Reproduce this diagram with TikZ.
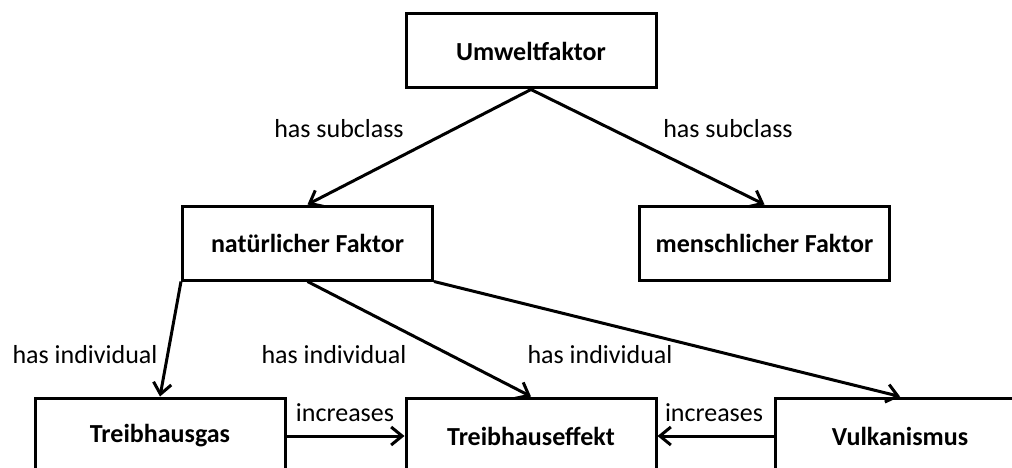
\documentclass[tikz,border=0pt]{standalone}
\usepackage{fontspec}
\setmainfont{Carlito}
\usetikzlibrary{arrows.meta}
\begin{document}
\begin{tikzpicture}[x=1pt,y=-1pt,
  box/.style={draw, line width=3pt, minimum width=250pt, minimum height=74pt, inner sep=0pt, font=\fontsize{26}{30}\selectfont\bfseries},
  lbl/.style={inner sep=0pt, font=\fontsize{26}{30}\selectfont},
  conn/.style={line width=3pt, -{Straight Barb[length=11pt,width=18pt,line width=3pt]}}]
\clip (0,0) rectangle (1012,468);
\useasboundingbox (0,0) rectangle (1012,468);
\node[box] (u) at (531,51) {Umweltfaktor};
\node[box] (n) at (307.5,243) {natürlicher Faktor};
\node[box] (m) at (764.5,243) {menschlicher Faktor};
\node[box, minimum height=76pt] (g) at (160,436) {Treibhausgas};
\node[box, minimum height=76pt] (e) at (531,436) {Treibhauseffekt};
\node[box, minimum height=76pt] (v) at (900,436) {Vulkanismus};
\draw[conn] (u.south) -- (n.north);
\draw[conn] (u.south) -- (m.north);
\draw[conn] (n.south west) -- (g.north);
\draw[conn] (n.south) -- (e.north);
\draw[conn] (n.south east) -- (v.north);
\draw[conn] (g.east) -- (e.west);
\draw[conn] (v.west) -- (e.east);
\node[lbl] (l1) at (339,129) {has subclass};
\node[lbl] (l2) at (728,129) {has subclass};
\node[lbl] (l3) at (85,355) {has individual};
\node[lbl] (l4) at (334,355) {has individual};
\node[lbl] (l5) at (600,355) {has individual};
\node[lbl] (l6) at (345,413) {increases};
\node[lbl] (l7) at (714,413) {increases};
\end{tikzpicture}
\end{document}
